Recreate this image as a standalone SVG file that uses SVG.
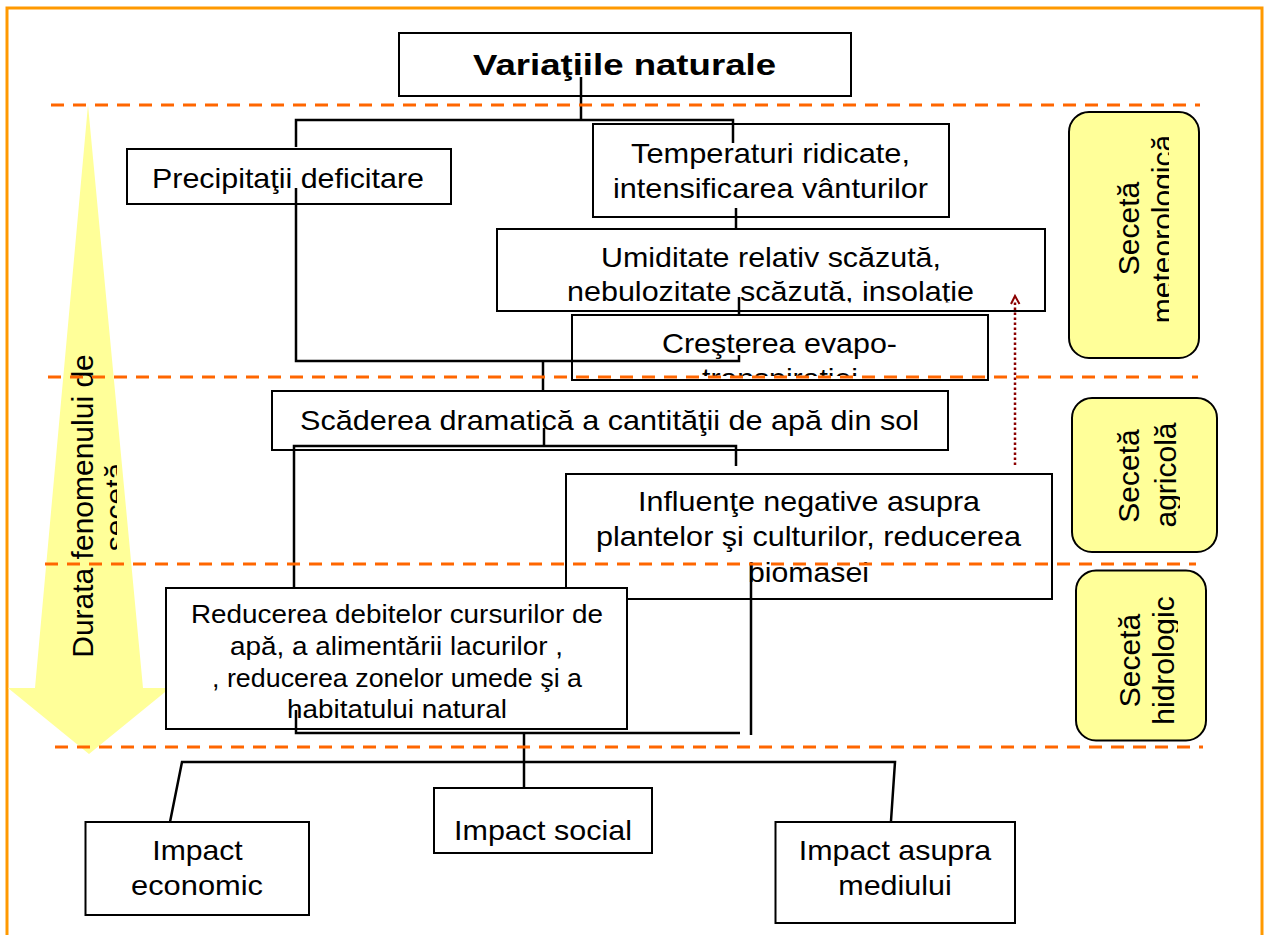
<svg xmlns="http://www.w3.org/2000/svg" width="1267" height="935" viewBox="0 0 1267 935">
<style>
.box{fill:#fff;stroke:#000;stroke-width:2}
.ybox{fill:#FFFF99;stroke:#000;stroke-width:2}
.t{font-family:"Liberation Sans",Arial,sans-serif;font-size:28px;fill:#000;text-anchor:middle}
.s25{font-size:25px}
.r{font-size:30px}
.b{font-weight:bold;font-size:30px}
.conn{fill:none;stroke:#000;stroke-width:2.5}
.dash{fill:none;stroke:#FF6600;stroke-width:3;stroke-dasharray:13 9}
</style>
<defs>
<clipPath id="cUmid"><rect x="497" y="229" width="548" height="73.5"/></clipPath>
<clipPath id="cCres"><rect x="572" y="315" width="416" height="61"/></clipPath>
<clipPath id="cMeteo"><rect x="1060" y="110" width="109" height="250"/></clipPath>
<clipPath id="cAgri"><rect x="1060" y="395" width="120" height="160"/></clipPath>
<clipPath id="cHidro"><rect x="1060" y="568" width="118" height="175"/></clipPath>
<clipPath id="cDur"><rect x="0" y="100" width="117" height="660"/></clipPath>
</defs>
<rect width="1267" height="935" fill="#fff"/>
<rect x="7" y="8" width="1255" height="940" fill="none" stroke="#FF9900" stroke-width="3"/>

<g id="arrow-durata">
<polygon points="88,105 143,688 170,688 89,754 8,688 35,688" fill="#FFFF99"/>
<text class="t r" transform="translate(93,506) rotate(-90)">Durata fenomenului de</text>
<g clip-path="url(#cDur)"><text class="t r" transform="translate(93,507) rotate(-90)" y="33">secetă</text></g>
</g>

<g id="n-title">
<rect class="box" x="399" y="33" width="452" height="63"/>
<text class="t b" x="624.5" y="75" textLength="303" lengthAdjust="spacingAndGlyphs">Variaţiile naturale</text>
</g>
<g id="n-precip">
<rect class="box" x="127" y="149" width="324" height="55"/>
<text class="t" x="288" y="188" textLength="272" lengthAdjust="spacingAndGlyphs">Precipitaţii deficitare</text>
</g>
<g id="n-temp">
<rect class="box" x="593" y="124" width="356" height="93"/>
<text class="t" x="770.5" y="163" textLength="279" lengthAdjust="spacingAndGlyphs">Temperaturi ridicate,</text>
<text class="t" x="770.5" y="198" textLength="315" lengthAdjust="spacingAndGlyphs">intensificarea vânturilor</text>
</g>
<g id="n-umid">
<rect class="box" x="497" y="229" width="548" height="82"/>
<g clip-path="url(#cUmid)">
<text class="t" x="771" y="267" textLength="340" lengthAdjust="spacingAndGlyphs">Umiditate relativ scăzută,</text>
<text class="t" x="770.5" y="301" textLength="407" lengthAdjust="spacingAndGlyphs">nebulozitate scăzută, insolaţie</text>
</g>
</g>
<g id="n-cres">
<rect class="box" x="572" y="315" width="416" height="65"/>
<g clip-path="url(#cCres)">
<text class="t" x="779.5" y="353" textLength="235" lengthAdjust="spacingAndGlyphs">Creşterea evapo-</text>
<text class="t" x="780" y="388" textLength="156" lengthAdjust="spacingAndGlyphs">transpiraţiei</text>
</g>
</g>
<g id="n-scad">
<rect class="box" x="272" y="391" width="676" height="59"/>
<text class="t" x="609.5" y="430" textLength="619" lengthAdjust="spacingAndGlyphs">Scăderea dramatică a cantităţii de apă din sol</text>
</g>
<g id="n-infl">
<rect class="box" x="566" y="474" width="486" height="125"/>
<text class="t" x="809" y="511" textLength="342" lengthAdjust="spacingAndGlyphs">Influenţe negative asupra</text>
<text class="t" x="808.5" y="546" textLength="425" lengthAdjust="spacingAndGlyphs">plantelor şi culturilor, reducerea</text>
<text class="t" x="808.5" y="582" textLength="121" lengthAdjust="spacingAndGlyphs">biomasei</text>
</g>
<g id="n-reduc">
<rect class="box" x="166" y="588" width="461" height="141"/>
<text class="t s25" x="397" y="623" textLength="412" lengthAdjust="spacingAndGlyphs">Reducerea debitelor cursurilor de</text>
<text class="t s25" x="396.5" y="655" textLength="333" lengthAdjust="spacingAndGlyphs">apă, a alimentării lacurilor ,</text>
<text class="t s25" x="397" y="687" textLength="370" lengthAdjust="spacingAndGlyphs">, reducerea zonelor umede şi a</text>
<text class="t s25" x="397" y="718" textLength="220" lengthAdjust="spacingAndGlyphs">habitatului natural</text>
</g>
<g id="n-econ">
<rect class="box" x="85.5" y="822" width="223.5" height="93"/>
<text class="t" x="197.5" y="860" textLength="90.5" lengthAdjust="spacingAndGlyphs">Impact</text>
<text class="t" x="197" y="895" textLength="132" lengthAdjust="spacingAndGlyphs">economic</text>
</g>
<g id="n-social">
<rect class="box" x="434" y="788" width="218" height="65"/>
<text class="t" x="543" y="840" textLength="178" lengthAdjust="spacingAndGlyphs">Impact social</text>
</g>
<g id="n-mediu">
<rect class="box" x="775.5" y="822" width="239.5" height="101"/>
<text class="t" x="895" y="860" textLength="192.5" lengthAdjust="spacingAndGlyphs">Impact asupra</text>
<text class="t" x="895" y="895" textLength="113.5" lengthAdjust="spacingAndGlyphs">mediului</text>
</g>

<g id="n-meteo">
<rect class="ybox" x="1069" y="112" width="130" height="246" rx="20"/>
<text class="t r" transform="translate(1139,228.5) rotate(-90)">Secetă</text>
<g clip-path="url(#cMeteo)"><text class="t r" transform="translate(1139,229) rotate(-90)" y="34">meteorologică</text></g>
</g>
<g id="n-agri">
<rect class="ybox" x="1072" y="398" width="145" height="154" rx="20"/>
<text class="t r" transform="translate(1139,476) rotate(-90)">Secetă</text>
<g clip-path="url(#cAgri)"><text class="t r" transform="translate(1139,475) rotate(-90)" y="37">agricolă</text></g>
</g>
<g id="n-hidro">
<rect class="ybox" x="1076" y="570.5" width="130" height="170" rx="20"/>
<text class="t r" transform="translate(1140,660.5) rotate(-90)">Secetă</text>
<g clip-path="url(#cHidro)"><text class="t r" transform="translate(1140,660.5) rotate(-90)" y="34">hidrologic</text></g>
</g>

<g id="connectors">
<path class="conn" d="M581,77 V120"/>
<path class="conn" d="M296,147 V120 H733 V143"/>
<path class="conn" d="M736,208 V229"/>
<path class="conn" d="M739,297 V315"/>
<path class="conn" d="M296,188 V361 H739 V355"/>
<path class="conn" d="M543,361 V391"/>
<path class="conn" d="M544,428 V446"/>
<path class="conn" d="M294,587 V446 H736 V466"/>
<path class="conn" d="M751,563 V735"/>
<path class="conn" d="M296,710 V733 H740"/>
<path class="conn" d="M524,733 V788"/>
<path class="conn" d="M170,822 L182,762 H895 L891,821"/>
<path d="M1015,465 V300" fill="none" stroke="#8B0000" stroke-width="2.5" stroke-dasharray="2.5 2.5"/>
<path d="M1011,304 L1015,296 L1019.5,304" fill="none" stroke="#8B0000" stroke-width="2"/>
</g>

<g id="bands">
<path class="dash" d="M51,105 H1200"/>
<path class="dash" d="M48,377 H1198"/>
<path class="dash" d="M45,564 H1196"/>
<path class="dash" d="M55,747 H1203"/>
</g>
</svg>
